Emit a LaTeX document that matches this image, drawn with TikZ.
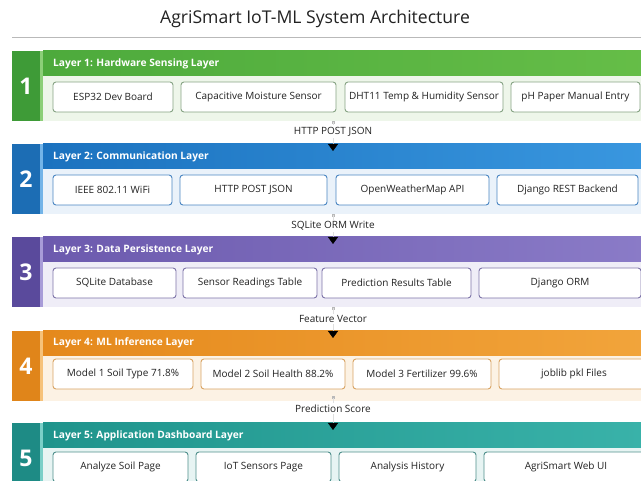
\documentclass[tikz,border=0pt]{standalone}
\usepackage{fontspec}
\setmainfont{Open Sans}
\usetikzlibrary{arrows.meta}
\definecolor{ttl}{HTML}{222222}
\definecolor{lbl}{HTML}{222222}
\definecolor{gnum}{HTML}{3E9B37}\definecolor{ga}{HTML}{4DAA3C}\definecolor{gb}{HTML}{66BE48}\definecolor{gs}{HTML}{8CCF78}\definecolor{gbody}{HTML}{EEF6EA}\definecolor{gbox}{HTML}{86A383}
\definecolor{bnum}{HTML}{1C6DB4}\definecolor{ba}{HTML}{1B72BF}\definecolor{bb}{HTML}{3A98E0}\definecolor{bs}{HTML}{73B4E8}\definecolor{bbody}{HTML}{EAF2FA}\definecolor{bbox}{HTML}{4A86C2}
\definecolor{pnum}{HTML}{5A4A9C}\definecolor{pa}{HTML}{6C5AAE}\definecolor{pb}{HTML}{8B7CC8}\definecolor{ps}{HTML}{A89CD8}\definecolor{pbody}{HTML}{EFEDF7}\definecolor{pbox}{HTML}{7D74A8}
\definecolor{onum}{HTML}{E0851A}\definecolor{oa}{HTML}{E5891C}\definecolor{ob}{HTML}{F2A53C}\definecolor{os}{HTML}{F6C27A}\definecolor{obody}{HTML}{FCF2E4}\definecolor{obox}{HTML}{D9A464}
\definecolor{tnum}{HTML}{1E8B85}\definecolor{ta}{HTML}{1F948C}\definecolor{tb}{HTML}{3AB3AA}\definecolor{ts}{HTML}{7ACFC8}\definecolor{tbody}{HTML}{E7F4F3}\definecolor{tbox}{HTML}{4E8F8B}
\tikzset{
  numblk/.style={rectangle,anchor=north west,inner sep=0pt,outer sep=0pt,minimum width=28pt,minimum height=70pt,text=white,font=\fontsize{23}{25}\selectfont\bfseries},
  stripblk/.style={rectangle,anchor=north west,inner sep=0pt,outer sep=0pt,minimum width=3pt,minimum height=70pt},
  hdrblk/.style={rectangle,anchor=north west,inner sep=0pt,outer sep=0pt,minimum width=620pt,minimum height=25pt},
  bodyblk/.style={rectangle,anchor=north west,inner sep=0pt,outer sep=0pt,minimum width=620pt,minimum height=45pt},
  hdrtxt/.style={anchor=west,inner sep=0pt,text=white,font=\fontsize{10.2}{12}\selectfont\bfseries},
  cbox/.style={rectangle,rounded corners=3pt,draw=#1,line width=0.9pt,fill=white,minimum height=30pt,inner sep=0pt,text=lbl,font=\fontsize{10}{12}\selectfont},
  conlbl/.style={fill=white,inner sep=1.5pt,text=lbl,font=\fontsize{10}{12}\selectfont},
  conline/.style={draw=gray!25,line width=0.5pt,-{Triangle[width=10pt,length=7pt,fill=black,color=black]}},
  sq/.style={rectangle,fill=gray!55,minimum size=3pt,inner sep=0pt}
}
\begin{document}
\begin{tikzpicture}[x=1pt,y=-1pt]
\useasboundingbox (0,0) rectangle (641,481);
\clip (0,0) rectangle (641,481);
\fill[white] (0,0) rectangle (641,481);
% title
\node[text=ttl,font=\fontsize{17.6}{20}\selectfont] (title) at (315,18.5) {AgriSmart IoT-ML System Architecture};
\draw[gray!55,line width=0.8pt] (12,37) -- (641,37);

% ---------- Layer 1 ----------
\node[numblk,fill=gnum] (n1) at (12,51) {1};
\node[stripblk,fill=gs] (s1) at (40,51) {};
\node[hdrblk,left color=ga,right color=gb] (h1) at (43,51) {};
\node[bodyblk,fill=gbody] (b1) at (43,76) {};
\node[hdrtxt] (t1) at (53,63.5) {Layer 1: Hardware Sensing Layer};
\node[cbox=gbox,minimum width=120pt] (l1a) at (113,97) {ESP32 Dev Board};
\node[cbox=gbox,minimum width=155pt] (l1b) at (258.5,97) {Capacitive Moisture Sensor};
\node[cbox=gbox,minimum width=158pt] (l1c) at (424,97) {DHT11 Temp \& Humidity Sensor};
\node[cbox=gbox,minimum width=129pt] (l1d) at (575.5,97) {pH Paper Manual Entry};

% ---------- Layer 2 ----------
\node[numblk,fill=bnum] (n2) at (12,144) {2};
\node[stripblk,fill=bs] (s2) at (40,144) {};
\node[hdrblk,left color=ba,right color=bb] (h2) at (43,144) {};
\node[bodyblk,fill=bbody] (b2) at (43,169) {};
\node[hdrtxt] (t2) at (53,156.5) {Layer 2: Communication Layer};
\node[cbox=bbox,minimum width=119pt] (l2a) at (112.5,190) {IEEE 802.11 WiFi};
\node[cbox=bbox,minimum width=147pt] (l2b) at (253.5,190) {HTTP POST JSON};
\node[cbox=bbox,minimum width=153pt] (l2c) at (412.5,190) {OpenWeatherMap API};
\node[cbox=bbox,minimum width=141pt] (l2d) at (567.5,190) {Django REST Backend};

% ---------- Layer 3 ----------
\node[numblk,fill=pnum] (n3) at (12,237) {3};
\node[stripblk,fill=ps] (s3) at (40,237) {};
\node[hdrblk,left color=pa,right color=pb] (h3) at (43,237) {};
\node[bodyblk,fill=pbody] (b3) at (43,262) {};
\node[hdrtxt] (t3) at (53,249.5) {Layer 3: Data Persistence Layer};
\node[cbox=pbox,minimum width=123pt] (l3a) at (114.5,283) {SQLite Database};
\node[cbox=pbox,minimum width=134pt] (l3b) at (250,283) {Sensor Readings Table};
\node[cbox=pbox,minimum width=149pt] (l3c) at (396.5,283) {Prediction Results Table};
\node[cbox=pbox,minimum width=162pt] (l3d) at (560,283) {Django ORM};

% ---------- Layer 4 ----------
\node[numblk,fill=onum] (n4) at (12,331) {4};
\node[stripblk,fill=os] (s4) at (40,331) {};
\node[hdrblk,left color=oa,right color=ob] (h4) at (43,331) {};
\node[bodyblk,fill=obody] (b4) at (43,356) {};
\node[hdrtxt] (t4) at (53,343) {Layer 4: ML Inference Layer};
\node[cbox=obox,minimum width=140pt] (l4a) at (123,374) {Model 1 Soil Type 71.8\%};
\node[cbox=obox,minimum width=144pt] (l4b) at (273,374) {Model 2 Soil Health 88.2\%};
\node[cbox=obox,minimum width=138pt] (l4c) at (422,374) {Model 3 Fertilizer 99.6\%};
\node[cbox=obox,minimum width=150pt] (l4d) at (574,374) {joblib pkl Files};

% ---------- Layer 5 ----------
\node[numblk,fill=tnum] (n5) at (12,423) {5};
\node[stripblk,fill=ts] (s5) at (40,423) {};
\node[hdrblk,left color=ta,right color=tb] (h5) at (43,423) {};
\node[bodyblk,fill=tbody] (b5) at (43,448) {};
\node[hdrtxt] (t5) at (53,435.5) {Layer 5: Application Dashboard Layer};
\node[cbox=tbox,minimum width=135pt] (l5a) at (120.5,467) {Analyze Soil Page};
\node[cbox=tbox,minimum width=135pt] (l5b) at (263.5,467) {IoT Sensors Page};
\node[cbox=tbox,minimum width=137pt] (l5c) at (407.5,467) {Analysis History};
\node[cbox=tbox,minimum width=164pt] (l5d) at (566,467) {AgriSmart Web UI};

% ---------- connectors ----------
\coordinate (c1s) at (333,122.5);
\coordinate (c1e) at (333,151);
\node[sq] (q1) at (c1s) {};
\draw[conline] (c1s) -- (c1e);
\node[conlbl] (k1) at (333,131.5) {HTTP POST JSON};

\coordinate (c2s) at (333,215.5);
\coordinate (c2e) at (333,244);
\node[sq] (q2) at (c2s) {};
\draw[conline] (c2s) -- (c2e);
\node[conlbl] (k2) at (333,226) {SQLite ORM Write};

\coordinate (c3s) at (333,308.5);
\coordinate (c3e) at (333,338);
\node[sq] (q3) at (c3s) {};
\draw[conline] (c3s) -- (c3e);
\node[conlbl] (k3) at (333,319) {Feature Vector};

\coordinate (c4s) at (333,398);
\coordinate (c4e) at (333,430);
\node[sq] (q4) at (c4s) {};
\draw[conline] (c4s) -- (c4e);
\node[conlbl] (k4) at (333,408.5) {Prediction Score};
\end{tikzpicture}
\end{document}
